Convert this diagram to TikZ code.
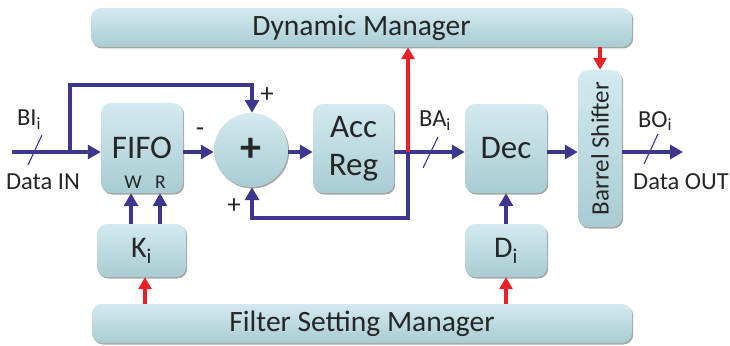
\documentclass[tikz,border=0pt]{standalone}
\usepackage{fontspec}
\setmainfont{Carlito}
\usetikzlibrary{arrows.meta,shadows}
\definecolor{lnblue}{HTML}{3E3790}
\definecolor{lnred}{HTML}{E8202A}
\definecolor{boxtop}{HTML}{D3EAEF}
\definecolor{boxbot}{HTML}{A8CCD2}
\definecolor{txt}{HTML}{262626}
\begin{document}
\begin{tikzpicture}[x=1pt,y=-1pt,
  box/.style={rounded corners=10pt, top color=boxtop, bottom color=boxbot, draw=none,
    drop shadow={shadow xshift=1.2pt, shadow yshift=-1.5pt, opacity=.35, fill=black},
    text=txt, inner sep=0pt, font=\fontsize{33}{38}\selectfont, align=center},
  circ/.style={circle, top color=boxtop, bottom color=boxbot, draw=none,
    drop shadow={shadow xshift=1.2pt, shadow yshift=-1.5pt, opacity=.35, fill=black},
    text=txt, inner sep=0pt, minimum size=74pt},
  bl/.style={draw=lnblue, line width=4.5pt},
  bla/.style={bl, -{Triangle[length=13pt,width=14pt]}},
  rd/.style={draw=lnred, line width=4pt},
  rda/.style={rd, -{Triangle[length=12pt,width=13pt]}},
  tick/.style={draw=lnblue, line width=1.1pt},
  lab/.style={text=txt, inner sep=0pt, font=\fontsize{24.5}{28}\selectfont},
  small/.style={text=txt, inner sep=0pt, font=\fontsize{19.5}{22}\selectfont},
  sign/.style={text=txt, inner sep=0pt, font=\fontsize{27}{28}\selectfont},
  wide/.style={font=\fontsize{29.5}{34}\selectfont}
]
\useasboundingbox (0,0) rectangle (730,345);
% boxes
\node[box, wide, minimum width=541pt, minimum height=39pt] (dm) at (361.5,27.5) {Dynamic Manager};
\node[box, wide, minimum width=540pt, minimum height=39pt] (fsm) at (362,323.5) {Filter Setting Manager};
\node[box, minimum width=82pt, minimum height=90pt] (fifo) at (142,148) {FIFO};
\node[circ] (sum) at (251,150) {\fontsize{42}{42}\selectfont\bfseries +};
\node[box, minimum width=81pt, minimum height=89pt] (acc) at (353.5,148.5) {Acc\\Reg};
\node[box, minimum width=82pt, minimum height=89pt] (dec) at (506,148.5) {Dec};
\node[box, minimum width=44pt, minimum height=157pt, font=\fontsize{25}{28}\selectfont] (bs) at (600,148.5) {\rotatebox{90}{Barrel Shifter}};
\node[box, minimum width=89pt, minimum height=53pt, font=\fontsize{30}{32}\selectfont] (ki) at (141.5,250.5) {K\textsubscript{i}};
\node[box, minimum width=82pt, minimum height=53pt, font=\fontsize{30}{32}\selectfont] (di) at (506,250.5) {D\textsubscript{i}};
% small labels
\node[small] (w) at (133,182) {W};
\node[small] (r) at (160.5,182) {R};
\node[sign] (p1) at (267,95) {+};
\node[sign] (m1) at (200,132) {-};
\node[sign] (p2) at (234,206) {+};
\node[lab] (bi) at (29,120) {BI\textsubscript{i}};
\node[lab] (din) at (43,182) {Data IN};
\node[lab] (ba) at (435,121) {BA\textsubscript{i}};
\node[lab] (bo) at (655,121) {BO\textsubscript{i}};
\node[lab] (dout) at (681,182) {Data OUT};
% coordinates
\coordinate (in) at (12,152);
\coordinate (j1) at (70,152);
\coordinate (t1) at (70,85);
\coordinate (t2) at (252,85);
\coordinate (j2) at (408,152);
\coordinate (b1) at (408,218);
\coordinate (b2) at (252,218);
\coordinate (out) at (683,152);
\coordinate (ml) at (0,152);
\coordinate (kw) at (131,0);
\coordinate (kr) at (160,0);
\coordinate (kf) at (145,0);
\coordinate (s1a) at (28,165); \coordinate (s1b) at (42,135);
\coordinate (s2a) at (423,168); \coordinate (s2b) at (438,137);
\coordinate (s3a) at (644,164); \coordinate (s3b) at (658,134);
% connectors
\draw[bla] (in) -- (fifo.west |- ml);
\draw[bla] (j1) -- (t1) -- (t2) -- (sum.north -| t2);
\draw[bla] (fifo.east |- ml) -- (sum.west |- ml);
\draw[bla] (sum.east |- ml) -- (acc.west |- ml);
\draw[bla] (acc.east |- ml) -- (dec.west |- ml);
\draw[bla] (j2) -- (b1) -- (b2) -- (sum.south -| b2);
\draw[rda] (j2) -- (dm.south -| j2);
\draw[bla] (dec.east |- ml) -- (bs.west |- ml);
\draw[bla] (bs.east |- ml) -- (out);
\draw[rda] (bs.north |- dm.south) -- (bs.north);
\draw[bla] (kw |- ki.north) -- (kw |- fifo.south);
\draw[bla] (kr |- ki.north) -- (kr |- fifo.south);
\draw[rda] (kf |- fsm.north) -- (kf |- ki.south);
\draw[rda] (di.south |- fsm.north) -- (di.south);
\draw[bla] (di.north) -- (dec.south);
\draw[tick] (s1a) -- (s1b);
\draw[tick] (s2a) -- (s2b);
\draw[tick] (s3a) -- (s3b);
\end{tikzpicture}
\end{document}
